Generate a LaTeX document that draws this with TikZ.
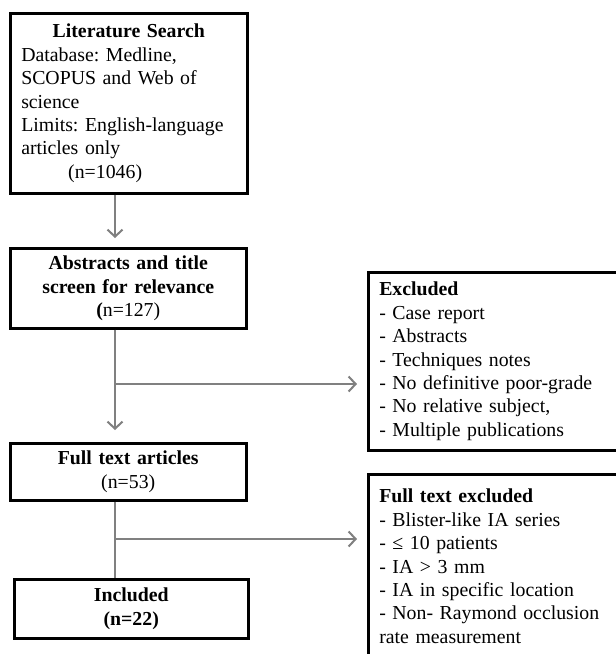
\documentclass[tikz,border=0pt]{standalone}
\usepackage{fontspec}
\setmainfont{Liberation Serif}
\usetikzlibrary{arrows.meta}
\definecolor{conncol}{RGB}{128,128,128}
\frenchspacing
\begin{document}
\begin{tikzpicture}[x=1pt,y=-1pt,
  box/.style={draw=black, line width=2.5pt, anchor=north west, inner xsep=11pt, inner ysep=0pt,
    font=\fontsize{19.8}{23.4}\selectfont\frenchspacing, align=left},
  conn/.style={draw=conncol, line width=1.4pt},
  arr/.style={conn, -{Straight Barb[length=7pt,width=15pt,line width=2pt]}}]
\useasboundingbox (0,0) rectangle (616,654);
\clip (0,0) rectangle (616,654);
\fill[white] (0,0) rectangle (616,654);

\node[box, text width=215pt, minimum height=180pt] (lit) at (9,12)
  {\makebox[\linewidth]{\bfseries Literature Search}\\
   Database: Medline,\\
   SCOPUS and Web of\\
   science\\
   Limits: English-language\\
   articles only\\
   \hspace*{47pt}(n=1046)};

\node[box, text width=214pt, minimum height=80pt, align=center] (abs) at (9,247)
  {\textbf{Abstracts and title}\\ \textbf{screen for relevance}\\ \textbf{(}n=127)};

\node[box, text width=214pt, minimum height=57pt, align=center] (full) at (9,442)
  {\textbf{Full text articles}\\ (n=53)};

\node[box, text width=212pt, minimum height=59pt, align=center] (inc) at (13,578)
  {\textbf{Included}\\ \textbf{(n=22)}};

\node[box, text width=278pt, minimum height=178pt] (excl1) at (367,271)
  {\textbf{Excluded}\\
   - Case report\\
   - Abstracts\\
   - Techniques notes\\
   - No definitive poor-grade\\
   - No relative subject,\\
   - Multiple publications};

\node[box, text width=278pt, inner ysep=15pt] (excl2) at (367,473)
  {\textbf{Full text excluded}\\
   - Blister-like IA series\\
   - ≤ 10 patients\\
   - IA > 3 mm\\
   - IA in specific location\\
   - Non- Raymond occlusion\\
   rate measurement};

\coordinate (vx) at (115,0);
\coordinate (b1) at (115,384);
\coordinate (b2) at (115,539);

\draw[arr, shorten >=9pt] (lit.south -| vx) -- (abs.north -| vx);
\draw[arr, shorten >=12pt] (abs.south -| vx) -- (full.north -| vx);
\draw[arr, shorten >=10pt] (b1) -- (b1 -| excl1.west);
\draw[conn] (full.south -| vx) -- (inc.north -| vx);
\draw[arr, shorten >=10pt] (b2) -- (b2 -| excl2.west);
\end{tikzpicture}
\end{document}
